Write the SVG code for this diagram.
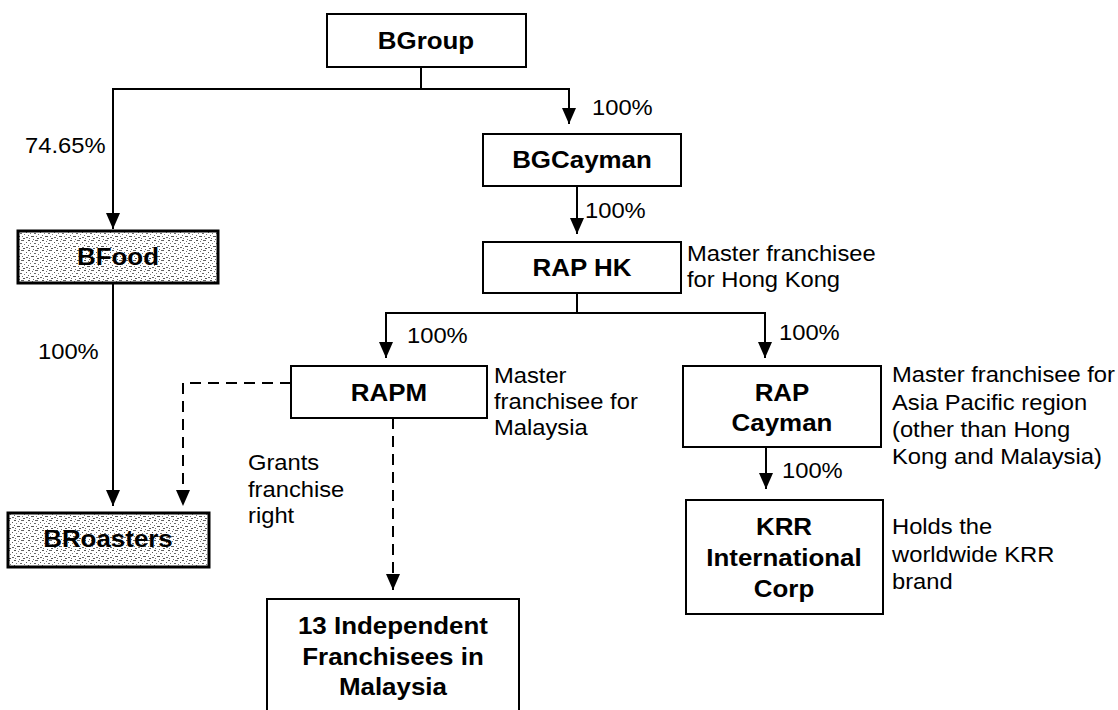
<svg xmlns="http://www.w3.org/2000/svg" width="1118" height="710" viewBox="0 0 1118 710">
<style>
.box{fill:#fff;stroke:#000;stroke-width:2}
.shaded{fill:url(#dots);stroke:#000;stroke-width:3}
.b{font-family:"Liberation Sans",Arial,sans-serif;font-weight:bold;font-size:24px;fill:#000;text-anchor:middle;transform-box:fill-box;transform-origin:50% 50%;transform:scaleX(1.08)}
.n{font-family:"Liberation Sans",Arial,sans-serif;font-size:22px;fill:#000;transform-box:fill-box;transform-origin:0 50%;transform:scaleX(1.08)}
.line{fill:none;stroke:#000;stroke-width:2}
.dash{fill:none;stroke:#000;stroke-width:2;stroke-dasharray:11 7}
</style>
<defs>
<marker id="ah" viewBox="0 0 16 14" refX="16" refY="7" markerWidth="16" markerHeight="14" markerUnits="userSpaceOnUse" orient="auto">
<path d="M0,0 L16,7 L0,14 z" fill="#000"/>
</marker>
<pattern id="dots" width="14" height="10" patternUnits="userSpaceOnUse">
<rect width="14" height="10" fill="#fff"/>
<rect x="0" y="0" width="2" height="1" fill="#555"/>
<rect x="4" y="1" width="1" height="1" fill="#777"/>
<rect x="7" y="0" width="3" height="1" fill="#666"/>
<rect x="12" y="2" width="1" height="1" fill="#555"/>
<rect x="2" y="3" width="1" height="1" fill="#777"/>
<rect x="6" y="3" width="2" height="1" fill="#666"/>
<rect x="10" y="4" width="1" height="1" fill="#777"/>
<rect x="0" y="5" width="1" height="1" fill="#666"/>
<rect x="3" y="6" width="3" height="1" fill="#555"/>
<rect x="8" y="6" width="1" height="1" fill="#777"/>
<rect x="12" y="7" width="2" height="1" fill="#666"/>
<rect x="1" y="8" width="1" height="1" fill="#777"/>
<rect x="5" y="9" width="1" height="1" fill="#666"/>
<rect x="9" y="8" width="2" height="1" fill="#555"/>
</pattern>
</defs>
<rect width="1118" height="710" fill="#fff"/>

<g id="connectors">
<path class="line" d="M421,67 V89 H113 V229" marker-end="url(#ah)"/>
<path class="line" d="M421,89 H569 V124" marker-end="url(#ah)"/>
<path class="line" d="M577,186 V234" marker-end="url(#ah)"/>
<path class="line" d="M113,283 V506" marker-end="url(#ah)"/>
<path class="dash" d="M291,383 H183 V506" marker-end="url(#ah)"/>
<path class="line" d="M577,293 V313 H386 V358" marker-end="url(#ah)"/>
<path class="line" d="M577,313 H765 V358" marker-end="url(#ah)"/>
<path class="dash" d="M393,418 V590" marker-end="url(#ah)"/>
<path class="line" d="M766,447 V489" marker-end="url(#ah)"/>
<text class="n" x="25" y="153">74.65%</text>
<text class="n" x="592" y="115">100%</text>
<text class="n" x="585" y="218">100%</text>
<text class="n" x="38" y="359">100%</text>
<text class="n" x="407" y="343">100%</text>
<text class="n" x="779" y="340">100%</text>
<text class="n" x="782" y="478">100%</text>
<text class="n" x="248" y="470">Grants</text>
<text class="n" x="248" y="497">franchise</text>
<text class="n" x="248" y="523">right</text>
</g>

<g id="BGroup">
<rect class="box" x="327" y="14" width="199" height="53"/>
<text class="b" x="426" y="49">BGroup</text>
</g>

<g id="BFood">
<rect class="shaded" x="18" y="231" width="200" height="52"/>
<text class="b" x="118" y="265">BFood</text>
</g>

<g id="BRoasters">
<rect class="shaded" x="8" y="513" width="201" height="54"/>
<text class="b" x="108" y="547">BRoasters</text>
</g>

<g id="BGCayman">
<rect class="box" x="483" y="134" width="198" height="52"/>
<text class="b" x="582" y="168">BGCayman</text>
</g>

<g id="RAPHK">
<rect class="box" x="483" y="242" width="198" height="51"/>
<text class="b" x="582" y="276">RAP HK</text>
<text class="n" x="687" y="261">Master franchisee</text>
<text class="n" x="687" y="287">for Hong Kong</text>
</g>

<g id="RAPM">
<rect class="box" x="291" y="366" width="196" height="52"/>
<text class="b" x="389" y="401">RAPM</text>
<text class="n" x="494" y="383">Master</text>
<text class="n" x="494" y="409">franchisee for</text>
<text class="n" x="494" y="435">Malaysia</text>
</g>

<g id="RAPCayman">
<rect class="box" x="683" y="366" width="198" height="81"/>
<text class="b" x="782" y="401">RAP</text>
<text class="b" x="782" y="431">Cayman</text>
<text class="n" x="892" y="382">Master franchisee for</text>
<text class="n" x="892" y="410">Asia Pacific region</text>
<text class="n" x="892" y="437">(other than Hong</text>
<text class="n" x="892" y="464">Kong and Malaysia)</text>
</g>

<g id="KRR">
<rect class="box" x="686" y="500" width="197" height="114"/>
<text class="b" x="784" y="535">KRR</text>
<text class="b" x="784" y="566">International</text>
<text class="b" x="784" y="597">Corp</text>
<text class="n" x="892" y="534">Holds the</text>
<text class="n" x="892" y="562">worldwide KRR</text>
<text class="n" x="892" y="589">brand</text>
</g>

<g id="Franchisees">
<rect class="box" x="267" y="599" width="252" height="140"/>
<text class="b" x="393" y="634">13 Independent</text>
<text class="b" x="393" y="665">Franchisees in</text>
<text class="b" x="393" y="695">Malaysia</text>
</g>
</svg>
